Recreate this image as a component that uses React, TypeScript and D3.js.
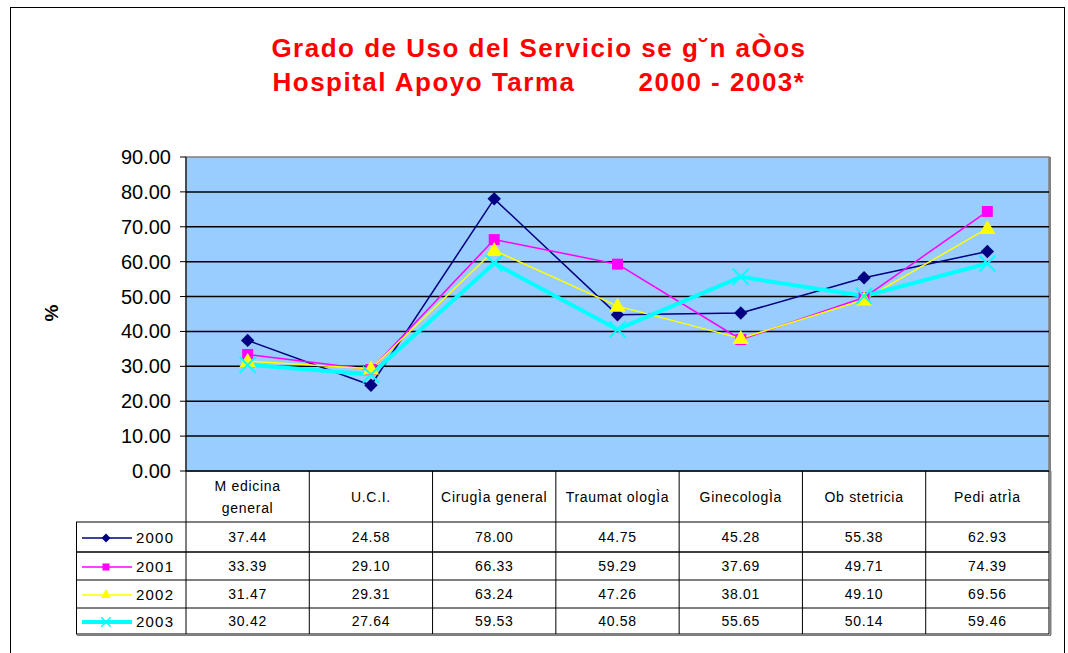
import React from 'react';
import * as d3 from 'd3';

const categories = ['Medicina general', 'U.C.I.', 'CirugÌa general', 'TraumatologÌa', 'GinecologÌa', 'Obstetricia', 'PediatrÌa'];
const headerLines = [['M edicina', 'general'], ['U.C.I.'], ['CirugÌa general'], ['Traumat ologÌa'], ['GinecologÌa'], ['Ob stetricia'], ['Pedi atrÌa']];
const years = ['2000', '2001', '2002', '2003'];
const v2000 = [37.44, 24.58, 78.0, 44.75, 45.28, 55.38, 62.93];
const v2001 = [33.39, 29.1, 66.33, 59.29, 37.69, 49.71, 74.39];
const v2002 = [31.47, 29.31, 63.24, 47.26, 38.01, 49.1, 69.56];
const v2003 = [30.42, 27.64, 59.53, 40.58, 55.65, 50.14, 59.46];
const yTicks = [0, 10, 20, 30, 40, 50, 60, 70, 80, 90];

const seriesValues = [v2000, v2001, v2002, v2003];
const colors = ['#000080', '#FF00FF', '#FFFF00', '#00FFFF'];
const widths = [1.5, 1.5, 1.5, 4];

const W = 1068;
const H = 653;
const plot = { left: 186, right: 1049, top: 157, bottom: 471 };
const rowLines = [522, 552, 580, 608, 634];
const font = 'Arial, "Liberation Sans", sans-serif';

function Marker({ i, cx, cy }: { i: number; cx: number; cy: number }) {
  const c = colors[i];
  if (i === 0) {
    const p = d3.symbol(d3.symbolSquare, 90)();
    return <path d={p || ''} transform={`translate(${cx},${cy}) rotate(45)`} fill={c} />;
  }
  if (i === 1) {
    const p = d3.symbol(d3.symbolSquare, 120)();
    return <path d={p || ''} transform={`translate(${cx},${cy})`} fill={c} />;
  }
  if (i === 2) {
    const p = d3.symbol(d3.symbolTriangle, 115)();
    return <path d={p || ''} transform={`translate(${cx},${cy + 1})`} fill={c} />;
  }
  const p = d3.symbol(d3.symbolTimes, 170)();
  return <path d={p || ''} transform={`translate(${cx},${cy})`} fill="none" stroke={c} strokeWidth={2} />;
}

function LegendMarker({ i, cx, cy }: { i: number; cx: number; cy: number }) {
  const c = colors[i];
  if (i === 0) {
    const p = d3.symbol(d3.symbolSquare, 40)();
    return <path d={p || ''} transform={`translate(${cx},${cy}) rotate(45)`} fill={c} />;
  }
  if (i === 1) {
    const p = d3.symbol(d3.symbolSquare, 50)();
    return <path d={p || ''} transform={`translate(${cx},${cy})`} fill={c} />;
  }
  if (i === 2) {
    const p = d3.symbol(d3.symbolTriangle, 45)();
    return <path d={p || ''} transform={`translate(${cx},${cy})`} fill={c} />;
  }
  const p = d3.symbol(d3.symbolTimes, 60)();
  return <path d={p || ''} transform={`translate(${cx},${cy})`} fill="none" stroke={c} strokeWidth={1.5} />;
}

export default function App() {
  const x = d3.scaleBand<string>().domain(categories).range([plot.left, plot.right]);
  const y = d3.scaleLinear().domain([0, 90]).range([plot.bottom, plot.top]);
  const cx = (k: string) => (x(k) as number) + x.bandwidth() / 2;

  const line = d3.line<number>()
    .x((_, j) => cx(categories[j]))
    .y(d => y(d));

  return (
    <svg width={W} height={H} style={{ position: 'absolute', left: 0, top: 0, fontFamily: font }}>
      <rect x={0} y={0} width={W} height={H} fill="#fff" />
      <rect x={10.5} y={7.5} width={1054} height={660} fill="#fff" stroke="#000" strokeWidth={1} />

      <g fill="#FF0000" fontWeight="bold" fontSize={26} textAnchor="middle" style={{ letterSpacing: '1.5px' }}>
        <text x={539} y={57}>Grado de Uso del Servicio se g˘n aÒos</text>
        <text x={424} y={91}>Hospital Apoyo Tarma</text>
        <text x={722} y={91}>2000 - 2003*</text>
      </g>

      <rect x={plot.left} y={plot.top} width={plot.right - plot.left} height={plot.bottom - plot.top} fill="#99CCFF" stroke="#808080" strokeWidth={1.5} />
      {yTicks.filter(t => t > 0 && t < 90).map(t => (
        <line key={t} x1={plot.left} x2={plot.right} y1={y(t)} y2={y(t)} stroke="#000" strokeWidth={1.5} />
      ))}
      <line x1={plot.right + 1} x2={plot.right + 1} y1={plot.top} y2={plot.bottom} stroke="#808080" strokeWidth={2} />

      {yTicks.map(t => (
        <g key={t}>
          <line x1={180} x2={plot.left} y1={y(t)} y2={y(t)} stroke="#000" />
          <text x={171} y={y(t) + 7} fontSize={20} textAnchor="end" fill="#000">{t.toFixed(2)}</text>
        </g>
      ))}
      <line x1={plot.left} x2={plot.left} y1={plot.top} y2={plot.bottom} stroke="#000" />
      <line x1={plot.left} x2={plot.right} y1={plot.bottom} y2={plot.bottom} stroke="#000" strokeWidth={1.5} />

      <text transform={`translate(58,313) rotate(-90)`} fontSize={19} fontWeight="bold" textAnchor="middle">%</text>

      {seriesValues.map((vals, i) => (
        <path key={years[i]} d={line(vals) || ''} fill="none" stroke={colors[i]} strokeWidth={widths[i]} strokeLinejoin="round" />
      ))}
      {seriesValues.map((vals, i) => (
        <g key={'m' + years[i]}>
          {vals.map((v, j) => <Marker key={j} i={i} cx={cx(categories[j])} cy={y(v)} />)}
        </g>
      ))}

      {/* data table */}
      <g stroke="#000" strokeWidth={1}>
        {categories.map(c => (
          <line key={c} x1={x(c) as number} x2={x(c) as number} y1={plot.bottom} y2={rowLines[4]} />
        ))}
        <line x1={plot.right} x2={plot.right} y1={plot.bottom} y2={rowLines[4]} />
        <line x1={76.5} x2={76.5} y1={rowLines[0]} y2={rowLines[4]} />
        {rowLines.map((r, k) => (
          <line key={r} x1={76} x2={plot.right} y1={r} y2={r} strokeWidth={k === 1 ? 1.5 : 1} />
        ))}
      </g>
      <line x1={plot.right + 1.5} x2={plot.right + 1.5} y1={plot.bottom} y2={rowLines[4] + 1} stroke="#808080" strokeWidth={2} />
      <line x1={77} x2={plot.right + 2} y1={rowLines[4] + 1.5} y2={rowLines[4] + 1.5} stroke="#808080" strokeWidth={1} />

      <g fontSize={14} textAnchor="middle" fill="#000" style={{ letterSpacing: '0.7px' }}>
        {categories.map((c, j) => {
          const lines = headerLines[j];
          const mid = (plot.bottom + rowLines[0]) / 2;
          return lines.map((t, k) => (
            <text key={c + k} x={cx(c)} y={mid + 5 + (k - (lines.length - 1) / 2) * 22}>{t}</text>
          ));
        })}
        {seriesValues.map((vals, i) => {
          const mid = (rowLines[i] + rowLines[i + 1]) / 2;
          return vals.map((v, j) => (
            <text key={years[i] + j} x={cx(categories[j])} y={mid + 5}>{v.toFixed(2)}</text>
          ));
        })}
      </g>

      {years.map((yr, i) => {
        const mid = (rowLines[i] + rowLines[i + 1]) / 2;
        return (
          <g key={'lg' + yr}>
            <line x1={82} x2={132} y1={mid + 1} y2={mid + 1} stroke={colors[i]} strokeWidth={i === 3 ? 4 : 1.5} />
            <LegendMarker i={i} cx={106} cy={mid + 1} />
            <text x={136} y={mid + 6} fontSize={15} style={{ letterSpacing: '1.2px' }}>{yr}</text>
          </g>
        );
      })}
    </svg>
  );
}
